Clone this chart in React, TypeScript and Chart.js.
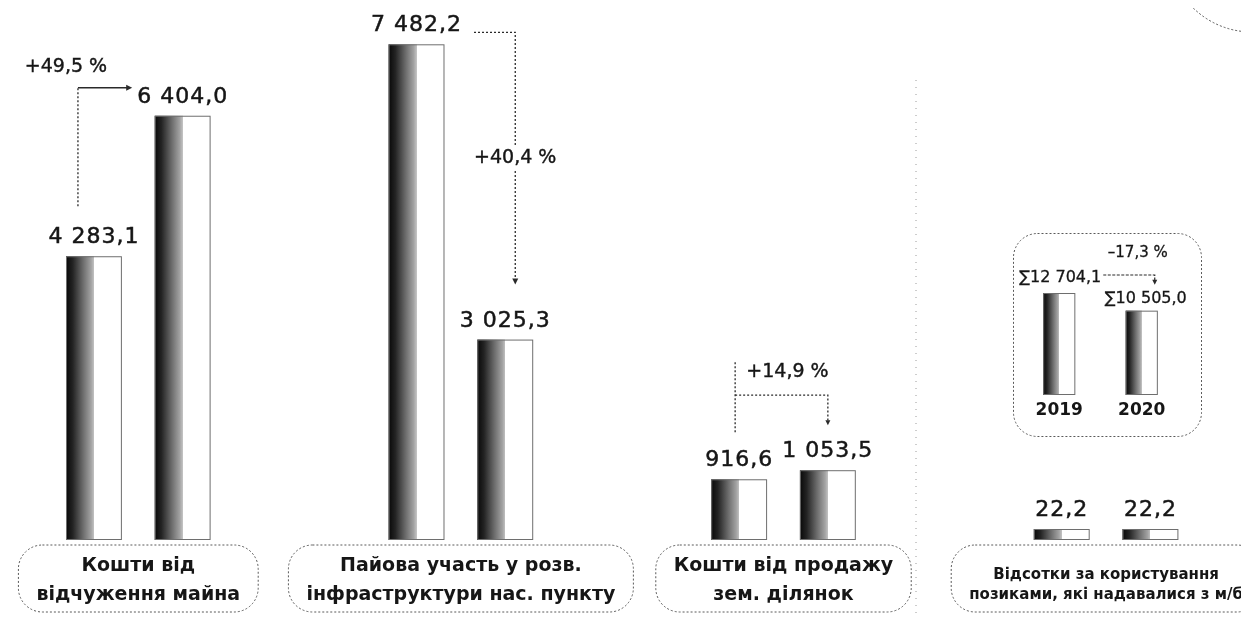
import React, { useEffect, useRef } from 'react';
import { Chart, registerables } from 'chart.js';

Chart.register(...registerables);

// ---------- data ----------
const categories: string[][] = [
  ['Кошти від', 'відчуження майна'],
  ['Пайова участь у розв.', 'інфраструктури нас. пункту'],
  ['Кошти від продажу', 'зем. ділянок'],
  ['Відсотки за користування', 'позиками, які надавалися з м/б'],
];
const seriesNames = ['2019', '2020'];
const values2019 = [4283.1, 7482.2, 916.6, 22.2];
const values2020 = [6404.0, 3025.3, 1053.5, 22.2];
const changeLabels = ['+49,5 %', '+40,4 %', '+14,9 %'];

const totalYears = ['2019', '2020'];
const totalValues = [12704.1, 10505.0];
const totalChangeLabel = '–17,3 %';

// ---------- helpers ----------
const INK = '#161616';

function fmt(v: number): string {
  const [i, d] = v.toFixed(1).split('.');
  return i.replace(/\B(?=(\d{3})+(?!\d))/g, ' ') + ',' + d;
}

function paintBar(ctx: CanvasRenderingContext2D, x: number, y: number, base: number, width: number) {
  const left = x - width / 2;
  const top = Math.min(y, base);
  const h = Math.abs(base - y);
  const g = ctx.createLinearGradient(left, 0, left + width, 0);
  g.addColorStop(0, '#080808');
  g.addColorStop(0.12, '#232323');
  g.addColorStop(0.3, '#6a6a6a');
  g.addColorStop(0.45, '#a3a3a3');
  g.addColorStop(0.5, '#c2c2c2');
  g.addColorStop(0.5, '#ffffff');
  g.addColorStop(1, '#ffffff');
  ctx.save();
  ctx.fillStyle = g;
  ctx.fillRect(left, top, width, h);
  ctx.strokeStyle = '#6e6e6e';
  ctx.lineWidth = 1;
  ctx.setLineDash([]);
  ctx.strokeRect(left + 0.5, top + 0.5, width - 1, h - 1);
  ctx.restore();
}

function path(ctx: CanvasRenderingContext2D, pts: number[][], dash: number[], color = '#2a2a2a', lw = 1.3) {
  ctx.save();
  ctx.strokeStyle = color;
  ctx.lineWidth = lw;
  ctx.setLineDash(dash);
  ctx.beginPath();
  ctx.moveTo(pts[0][0], pts[0][1]);
  for (let k = 1; k < pts.length; k++) ctx.lineTo(pts[k][0], pts[k][1]);
  ctx.stroke();
  ctx.restore();
}

function arrowHead(ctx: CanvasRenderingContext2D, x: number, y: number, dir: 'right' | 'down', s = 6) {
  ctx.save();
  ctx.fillStyle = '#2a2a2a';
  ctx.beginPath();
  if (dir === 'right') {
    ctx.moveTo(x, y);
    ctx.lineTo(x - s, y - s / 2);
    ctx.lineTo(x - s, y + s / 2);
  } else {
    ctx.moveTo(x, y);
    ctx.lineTo(x - s / 2, y - s);
    ctx.lineTo(x + s / 2, y - s);
  }
  ctx.closePath();
  ctx.fill();
  ctx.restore();
}

function dottedRoundRect(ctx: CanvasRenderingContext2D, x: number, y: number, w: number, h: number, r: number) {
  ctx.save();
  ctx.strokeStyle = '#5a5a5a';
  ctx.lineWidth = 1;
  ctx.setLineDash([2, 2]);
  ctx.beginPath();
  (ctx as any).roundRect(x, y, w, h, r);
  ctx.stroke();
  ctx.restore();
}

function boldText(ctx: CanvasRenderingContext2D, t: string, x: number, y: number) {
  ctx.fillText(t, x, y);
  ctx.strokeText(t, x, y);
}

const tickFont = (i: number) =>
  i === 3
    ? { family: "'DejaVu Sans', sans-serif", size: 15, weight: 'bold', lineHeight: 1.35 }
    : { family: "'DejaVu Sans', sans-serif", size: 19, weight: 'bold', lineHeight: 1.55 };

const VALUE_FONT = "22px 'DejaVu Sans', sans-serif";
const PCT_FONT = "19px 'DejaVu Sans', sans-serif";

// ---------- main chart plugins ----------
const barsPlugin = {
  id: 'gradientBars',
  afterDatasetsDraw(chart: any) {
    const ctx = chart.ctx as CanvasRenderingContext2D;
    chart.data.datasets.forEach((_: any, di: number) => {
      const meta = chart.getDatasetMeta(di);
      meta.data.forEach((el: any) => {
        const p = el.getProps(['x', 'y', 'base', 'width'], true);
        paintBar(ctx, p.x, p.y, p.base, p.width);
      });
    });
  },
};

const mainDecor = {
  id: 'mainDecor',
  afterDraw(chart: any) {
    const ctx = chart.ctx as CanvasRenderingContext2D;
    const m0 = chart.getDatasetMeta(0).data;
    const m1 = chart.getDatasetMeta(1).data;
    const sets = [values2019, values2020];

    // value labels
    ctx.save();
    ctx.font = VALUE_FONT;
    (ctx as any).letterSpacing = '1px';
    ctx.fillStyle = INK;
    ctx.strokeStyle = INK;
    ctx.lineWidth = 0.5;
    ctx.textAlign = 'center';
    ctx.textBaseline = 'alphabetic';
    [m0, m1].forEach((m: any[], di: number) => {
      m.forEach((el: any, i: number) => {
        boldText(ctx, fmt(sets[di][i]), el.x, el.y - 13);
      });
    });
    const widthOf = (v: number) => ctx.measureText(fmt(v)).width;
    const wB0 = widthOf(values2020[0]);
    const wA1 = widthOf(values2019[1]);
    ctx.restore();

    const pct = (t: string, x: number, y: number, bg = false) => {
      ctx.save();
      ctx.font = PCT_FONT;
      if (bg) {
        const tw = ctx.measureText(t).width;
        ctx.fillStyle = '#ffffff';
        ctx.fillRect(x - tw / 2 - 3, y - 12, tw + 6, 24);
      }
      ctx.fillStyle = INK;
      ctx.strokeStyle = INK;
      ctx.lineWidth = 0.4;
      ctx.textAlign = 'center';
      ctx.textBaseline = 'middle';
      boldText(ctx, t, x, y);
      ctx.restore();
    };

    // group 1 annotation
    {
      const a = m0[0], b = m1[0];
      const lx = a.x - 16;
      const yb = a.y - 50;
      const yt = b.y - 28;
      const tip = b.x - wB0 / 2 - 5;
      path(ctx, [[lx, yb], [lx, yt]], [2, 2]);
      path(ctx, [[lx, yt], [tip - 4, yt]], []);
      arrowHead(ctx, tip, yt, 'right');
      pct(changeLabels[0], lx - 12, yt - 21);
    }
    // group 2 annotation
    {
      const a = m0[1], b = m1[1];
      const x0 = a.x + wA1 / 2 + 12;
      const lx = b.x + 10;
      const y0 = a.y - 12;
      const y1 = b.y - 55;
      path(ctx, [[x0, y0], [lx, y0], [lx, y1 - 4]], [2, 2]);
      arrowHead(ctx, lx, y1, 'down');
      pct(changeLabels[1], lx, (y0 + y1) / 2, true);
    }
    // group 3 annotation
    {
      const a = m0[2], b = m1[2];
      const yBr = Math.min(a.y, b.y) - 75;
      const lx = a.x - 4;
      const rx = b.x;
      path(ctx, [[lx, yBr - 33], [lx, a.y - 45]], [2, 2]);
      path(ctx, [[lx, yBr], [rx, yBr], [rx, b.y - 49]], [2, 2]);
      arrowHead(ctx, rx, b.y - 45, 'down', 5);
      pct(changeLabels[2], (lx + rx) / 2 + 6, yBr - 23);
    }

    // category label boxes
    const xs = chart.scales.x;
    categories.forEach((lines, i) => {
      const f = tickFont(i);
      ctx.save();
      ctx.font = `${f.weight} ${f.size}px ${f.family}`;
      const w = Math.max(...lines.map((t) => ctx.measureText(t).width));
      ctx.restore();
      const cx = xs.getPixelForTick(i);
      const bw = w + 36;
      dottedRoundRect(ctx, cx - bw / 2, xs.top + 5, bw, 67, 24);
    });

    // faint scan guide line and corner arc
    path(ctx, [[939, 72], [939, 606]], [1, 6], '#9a9a9a', 1);
    ctx.save();
    ctx.strokeStyle = '#555';
    ctx.lineWidth = 1;
    ctx.setLineDash([2, 2]);
    ctx.beginPath();
    ctx.arc(1275, -60, 84, (92 * Math.PI) / 180, (146 * Math.PI) / 180);
    ctx.stroke();
    ctx.restore();
  },
};

// ---------- inset plugins ----------
const insetDecor = {
  id: 'insetDecor',
  afterDraw(chart: any) {
    const ctx = chart.ctx as CanvasRenderingContext2D;
    const m = chart.getDatasetMeta(0).data;
    m.forEach((el: any) => {
      const p = el.getProps(['x', 'y', 'base', 'width'], true);
      paintBar(ctx, p.x, p.y, p.base, p.width);
    });
    dottedRoundRect(ctx, 1.5, 1.5, chart.width - 3, chart.height - 3, 24);

    ctx.save();
    ctx.font = "16px 'DejaVu Sans', sans-serif";
    ctx.fillStyle = INK;
    ctx.strokeStyle = INK;
    ctx.lineWidth = 0.3;
    ctx.textAlign = 'center';
    ctx.textBaseline = 'alphabetic';
    const t0 = '∑' + fmt(totalValues[0]);
    const t1 = '∑' + fmt(totalValues[1]);
    boldText(ctx, t0, m[0].x + 1, m[0].y - 11);
    boldText(ctx, t1, m[1].x + 4, m[1].y - 8);
    const w0 = ctx.measureText(t0).width;
    ctx.font = "15px 'DejaVu Sans', sans-serif";
    ctx.textBaseline = 'middle';
    boldText(ctx, totalChangeLabel, m[1].x - 4, m[0].y - 40);
    ctx.restore();

    const x0 = m[0].x + 1 + w0 / 2 + 2;
    const x1 = m[1].x + 13;
    const y0 = m[0].y - 18;
    path(ctx, [[x0, y0], [x1, y0], [x1, m[1].y - 30]], [3, 1.5], '#2a2a2a', 1.2);
    arrowHead(ctx, x1, m[1].y - 26, 'down', 5);
  },
};

export default function App() {
  const mainRef = useRef<HTMLCanvasElement>(null);
  const insetRef = useRef<HTMLCanvasElement>(null);

  useEffect(() => {
    const main = new Chart(mainRef.current!, {
      type: 'bar',
      data: {
        labels: categories as any,
        datasets: [
          {
            label: seriesNames[0],
            data: values2019,
            backgroundColor: 'rgba(0,0,0,0)',
            borderWidth: 0,
            minBarLength: 11,
            categoryPercentage: 0.55,
            barPercentage: 0.63,
          },
          {
            label: seriesNames[1],
            data: values2020,
            backgroundColor: 'rgba(0,0,0,0)',
            borderWidth: 0,
            minBarLength: 11,
            categoryPercentage: 0.55,
            barPercentage: 0.63,
          },
        ],
      },
      options: {
        responsive: false,
        animation: false,
        events: [],
        layout: { padding: { top: 2, left: 0, right: 0, bottom: 0 } },
        plugins: { legend: { display: false }, tooltip: { enabled: false } },
        scales: {
          x: {
            grid: { display: false, drawTicks: false },
            border: { display: false },
            ticks: {
              color: INK,
              padding: 26,
              maxRotation: 0,
              minRotation: 0,
              autoSkip: false,
              crossAlign: 'center',
              font: (c: any) => tickFont(c.index) as any,
            },
            afterFit: (s: any) => {
              s.height = 74;
            },
          },
          y: { display: false, min: 0, max: 8000 },
        },
      },
      plugins: [barsPlugin, mainDecor],
    });

    const inset = new Chart(insetRef.current!, {
      type: 'bar',
      data: {
        labels: totalYears,
        datasets: [
          {
            label: 'Σ',
            data: totalValues,
            backgroundColor: 'rgba(0,0,0,0)',
            borderWidth: 0,
            categoryPercentage: 1,
            barPercentage: 0.39,
          },
        ],
      },
      options: {
        responsive: false,
        animation: false,
        events: [],
        layout: { padding: { top: 50.6, left: 6, right: 20, bottom: 0 } },
        plugins: { legend: { display: false }, tooltip: { enabled: false } },
        scales: {
          x: {
            grid: { display: false, drawTicks: false },
            border: { display: false },
            ticks: {
              color: INK,
              padding: 5,
              maxRotation: 0,
              autoSkip: false,
              font: { family: "'DejaVu Sans', sans-serif", size: 17, weight: 'bold', lineHeight: 1.2 },
            },
            afterFit: (s: any) => {
              s.height = 43;
            },
          },
          y: { display: false, min: 0, max: 14000 },
        },
      },
      plugins: [insetDecor],
    });

    return () => {
      main.destroy();
      inset.destroy();
    };
  }, []);

  return (
    <div style={{ position: 'relative', width: 1233, height: 606, overflow: 'hidden', background: '#fff' }}>
      <canvas ref={mainRef} width={1292} height={606} style={{ position: 'absolute', left: -31, top: 0 }} />
      <canvas ref={insetRef} width={191} height={206} style={{ position: 'absolute', left: 1004, top: 224 }} />
    </div>
  );
}
